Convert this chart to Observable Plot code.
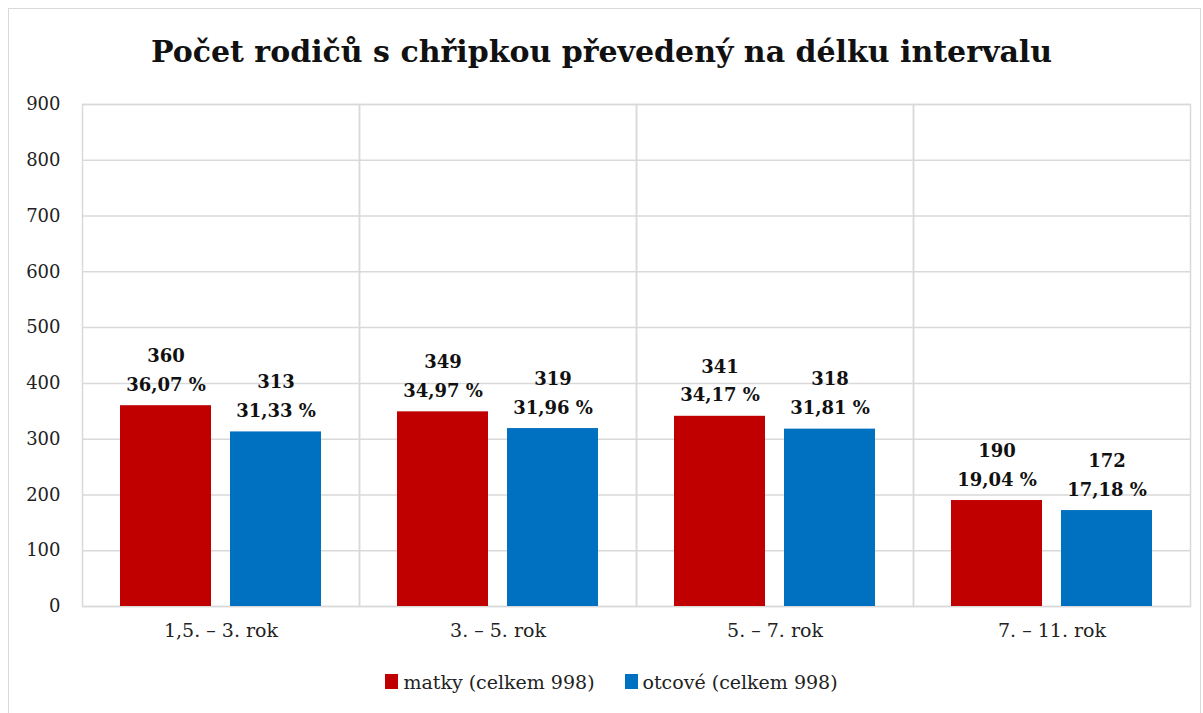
<!DOCTYPE html>
<html>
<head>
<meta charset="utf-8">
<script src="https://cdn.jsdelivr.net/npm/d3@7"></script>
<script src="https://cdn.jsdelivr.net/npm/@observablehq/plot@0.6"></script>
<style>
  body { margin: 0; background: #fff; font-family: "DejaVu Serif", serif; }
  #wrap { position: relative; width: 1203px; height: 713px; overflow: hidden; }
  #border { position: absolute; left: 8px; top: 8px; width: 1191px; height: 720px; border: 1.5px solid #d9d9d9; pointer-events: none; }
  #title { height: 90px; box-sizing: border-box; padding-top: 32px; line-height: 40px; text-align: center; font-weight: bold; font-size: 30px; color: #111; }
  #legend { height: 63px; display: flex; justify-content: center; align-items: center; gap: 30px; font-size: 19px; color: #222; padding-left: 20px; }
  .item { display: flex; align-items: center; gap: 5px; }
  .sw { width: 13px; height: 15px; display: inline-block; }
</style>
</head>
<body>
<div id="wrap">
  <div id="border"></div>
  <div id="title">Počet rodičů s chřipkou převedený na délku intervalu</div>
  <div id="chart"></div>
  <div id="legend"></div>
</div>
<script>
const categories = ["1,5. – 3. rok", "3. – 5. rok", "5. – 7. rok", "7. – 11. rok"];
const series = ["matky (celkem 998)", "otcové (celkem 998)"];
const matky = [360, 349, 341, 190];
const otcove = [313, 319, 318, 172];
const matkyPct = ["36,07 %", "34,97 %", "34,17 %", "19,04 %"];
const otcovePct = ["31,33 %", "31,96 %", "31,81 %", "17,18 %"];
const colors = ["#C00000", "#0070C0"];
const yTicks = [0, 100, 200, 300, 400, 500, 600, 700, 800, 900];

const data = [];
categories.forEach((c, i) => {
  data.push({cat: c, series: series[0], value: matky[i], pct: matkyPct[i]});
  data.push({cat: c, series: series[1], value: otcove[i], pct: otcovePct[i]});
});

const chart = Plot.plot({
  width: 1203,
  height: 560,
  marginLeft: 82,
  marginRight: 13,
  marginTop: 14,
  marginBottom: 44,
  style: {fontFamily: "DejaVu Serif, serif", fontSize: "18px", color: "#222", background: "transparent"},
  fx: {domain: categories, padding: 0, label: null},
  x: {domain: series, axis: null, paddingInner: 0.173, paddingOuter: 0.336},
  y: {domain: [0, 900], label: null},
  color: {domain: series, range: colors},
  marks: [
    Plot.gridY(yTicks, {stroke: "#d9d9d9", strokeOpacity: 1, strokeWidth: 1.5}),
    Plot.frame({stroke: "#d9d9d9", strokeWidth: 1.5}),
    Plot.axisY({ticks: yTicks, tickSize: 0, tickPadding: 22, fontSize: 18, label: null, tickFormat: d => String(d)}),
    Plot.axisFx({anchor: "bottom", tickSize: 0, tickPadding: 17, fontSize: 19, label: null}),
    Plot.barY(data, {fx: "cat", x: "series", y: "value", fill: "series"}),
    Plot.text(data, {
      fx: "cat", x: "series", y: "value",
      text: d => `${d.value}\n${d.pct}`,
      lineAnchor: "bottom", lineHeight: 1.6, dy: -15,
      fontWeight: "bold", fontSize: 18, fill: "#111"
    })
  ]
});
document.getElementById("chart").appendChild(chart);

const legend = document.getElementById("legend");
series.forEach((s, i) => {
  const it = document.createElement("span");
  it.className = "item";
  const sw = document.createElement("span");
  sw.className = "sw";
  sw.style.background = colors[i];
  const t = document.createElement("span");
  t.textContent = s;
  it.appendChild(sw);
  it.appendChild(t);
  legend.appendChild(it);
});
</script>
</body>
</html>
